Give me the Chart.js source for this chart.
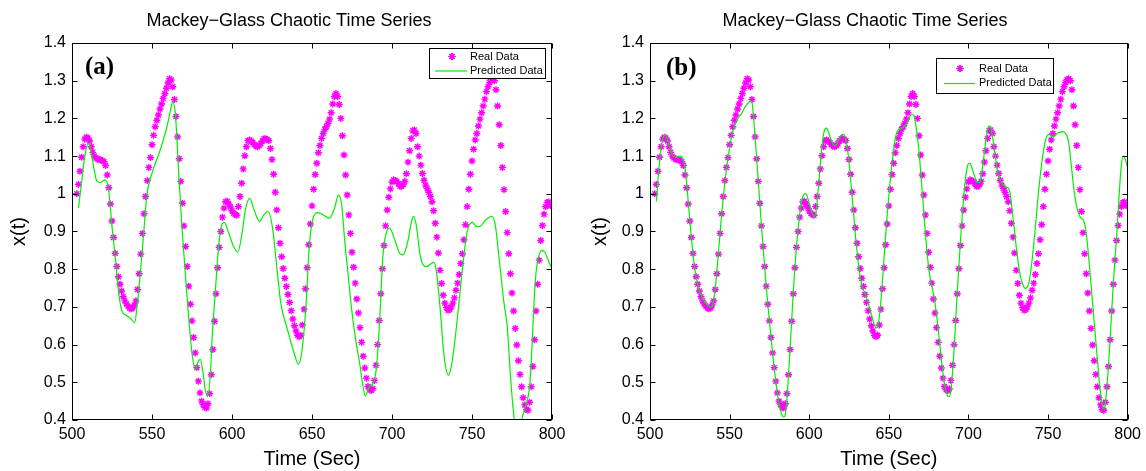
<!DOCTYPE html>
<html>
<head>
<meta charset="utf-8">
<script src="https://cdn.jsdelivr.net/npm/chart.js@4.4.1/dist/chart.umd.min.js"></script>
<style>
html,body{margin:0;padding:0;background:#fff;}
#wrap{position:relative;width:1146px;height:471px;overflow:hidden;}
.panel{position:absolute;top:0;width:573px;height:471px;}
</style>
</head>
<body>
<div id="wrap">
  <div class="panel" style="left:0"><canvas id="chartA" width="573" height="471"></canvas></div>
  <div class="panel" style="left:573px"><canvas id="chartB" width="573" height="471"></canvas></div>
</div>
<script>
// ---------- DATA ----------
const titleText = 'Mackey\u2212Glass Chaotic Time Series';
const xAxisLabel = 'Time (Sec)';
const yAxisLabel = 'x(t)';
const seriesLabels = ['Real Data', 'Predicted Data'];
const panelLabels = ['(a)', '(b)'];

const xTicks = [500, 550, 600, 650, 700, 750, 800];
const yTicks = [0.4, 0.5, 0.6, 0.7, 0.8, 0.9, 1.0, 1.1, 1.2, 1.3, 1.4];
const yTickLabels = ['0.4', '0.5', '0.6', '0.7', '0.8', '0.9', '1', '1.1', '1.2', '1.3', '1.4'];

const realTime = [
503,504,505,506,507,508,509,510,511,512,513,514,515,516,517,518,519,520,521,522,523,524,525,526,527,528,529,530,
531,532,533,534,535,536,537,538,539,540,541,542,543,544,545,546,547,548,549,550,551,552,553,554,555,556,557,558,559,560,
561,562,563,564,565,566,567,568,569,570,571,572,573,574,575,576,577,578,579,580,581,582,583,584,585,586,587,588,589,590,
591,592,593,594,595,596,597,598,599,600,601,602,603,604,605,606,607,608,609,610,611,612,613,614,615,616,617,618,619,620,
621,622,623,624,625,626,627,628,629,630,631,632,633,634,635,636,637,638,639,640,641,642,643,644,645,646,647,648,649,650,
651,652,653,654,655,656,657,658,659,660,661,662,663,664,665,666,667,668,669,670,671,672,673,674,675,676,677,678,679,680,
681,682,683,684,685,686,687,688,689,690,691,692,693,694,695,696,697,698,699,700,701,702,703,704,705,706,707,708,709,710,
711,712,713,714,715,716,717,718,719,720,721,722,723,724,725,726,727,728,729,730,731,732,733,734,735,736,737,738,739,740,
741,742,743,744,745,746,747,748,749,750,751,752,753,754,755,756,757,758,759,760,761,762,763,764,765,766,767,768,769,770,
771,772,773,774,775,776,777,778,779,780,781,782,783,784,785,786,787,788,789,790,791,792,793,794,795,796,797,798,799
];
const realValues = [
1.0,1.025,1.06,1.097,1.125,1.145,1.15,1.148,1.14,1.125,1.11,1.1,1.095,1.092,1.09,1.09,1.088,1.085,1.075,1.05,1.016,0.973,0.928,0.884,0.842,0.807,0.78,0.76,
0.742,0.727,0.716,0.708,0.702,0.697,0.695,0.697,0.705,0.716,0.746,0.788,0.84,0.895,0.947,0.993,1.035,1.07,1.096,1.13,1.155,1.178,1.195,1.209,1.225,1.238,1.253,1.266,1.28,1.294,
1.305,1.302,1.284,1.25,1.205,1.151,1.093,1.033,0.975,0.915,0.86,0.807,0.755,0.707,0.663,0.619,0.578,0.539,0.503,0.472,0.45,0.441,0.434,0.432,0.443,0.47,0.52,0.587,0.662,0.735,
0.804,0.858,0.9,0.938,0.962,0.979,0.98,0.973,0.965,0.955,0.948,0.945,0.943,0.966,0.993,1.028,1.066,1.101,1.125,1.141,1.143,1.14,1.136,1.13,1.127,1.125,1.128,1.133,1.14,1.146,
1.146,1.144,1.141,1.12,1.091,1.052,1.004,0.957,0.91,0.869,0.833,0.802,0.776,0.754,0.733,0.712,0.69,0.668,0.65,0.636,0.625,0.621,0.625,0.652,0.694,0.748,0.804,0.865,0.92,0.968,
1.012,1.051,1.081,1.109,1.128,1.147,1.16,1.171,1.178,1.187,1.198,1.215,1.238,1.258,1.266,1.258,1.237,1.2,1.154,1.103,1.05,0.997,0.944,0.895,0.845,0.805,0.763,0.721,0.684,0.645,
0.606,0.569,0.538,0.511,0.489,0.48,0.478,0.483,0.505,0.545,0.6,0.664,0.735,0.801,0.863,0.915,0.957,0.991,1.013,1.031,1.037,1.035,1.033,1.027,1.02,1.02,1.024,1.033,1.053,1.084,
1.114,1.147,1.167,1.169,1.16,1.125,1.1,1.076,1.054,1.036,1.023,1.014,1.004,0.993,0.979,0.955,0.922,0.885,0.843,0.797,0.762,0.731,0.71,0.698,0.691,0.693,0.7,0.71,0.724,0.744,
0.763,0.786,0.815,0.841,0.878,0.918,0.966,1.012,1.052,1.087,1.118,1.143,1.16,1.18,1.198,1.215,1.233,1.251,1.271,1.284,1.295,1.303,1.305,1.3,1.276,1.233,1.183,1.128,1.07,1.011,
0.953,0.897,0.841,0.788,0.737,0.689,0.643,0.599,0.557,0.521,0.488,0.459,0.44,0.428,0.426,0.447,0.488,0.542,0.613,0.689,0.76,0.824,0.876,0.916,0.946,0.966,0.977,0.978,0.968
];

const predATime = [
504,506,508,510.4,512,514,515.6,517.5,520.8,522.9,525,527,529.2,531.3,533.3,536.5,539.2,540.6,542.7,544.8,546.9,550,555.2,559.4,561.5,562.9,564.6,565.6,566.7,568.7,
570.8,572.9,575,577.1,578.8,580.2,581.9,583.3,584.8,586.5,587.5,589.5,591.6,593.3,595.2,597.9,601,603.6,606.3,608.4,611.1,613.7,617.2,620,622.5,625.2,628.4,630.5,634.7,638.9,
641.4,643.5,646.2,648.3,650.4,653.6,657.8,660.9,664.1,666.6,668.7,670.4,672.5,674.6,676.7,679.8,681.5,683.4,685.9,688,690.1,692.2,694.3,696.4,698.5,701.7,704.8,706.9,710.1,712.2,
713.7,715.3,717.4,719.5,721.6,724.8,726.3,727.9,730,732.6,735.3,737.4,740.5,743.7,746.8,750,753.2,755.3,758.4,762.6,764.7,766.8,770,772,774,775.5,776.5,778,780,781,
783,785,786,787,788,789,790,791.5,793.5,795.5,798,800
];
const predAValues = [
0.962,1.03,1.1,1.135,1.11,1.06,1.033,1.03,1.037,1.01,0.913,0.834,0.736,0.688,0.679,0.67,0.658,0.70,0.789,0.896,1.0,1.055,1.117,1.179,1.22,1.243,1.214,1.143,1.055,0.913,
0.789,0.674,0.577,0.533,0.555,0.561,0.524,0.48,0.462,0.524,0.612,0.736,0.86,0.913,0.924,0.896,0.86,0.845,0.896,0.958,0.988,0.958,0.927,0.945,0.953,0.913,0.789,0.71,0.639,0.577,
0.548,0.577,0.7,0.86,0.931,0.95,0.942,0.935,0.962,0.997,0.966,0.877,0.789,0.7,0.63,0.55,0.5,0.464,0.489,0.497,0.533,0.656,0.834,0.896,0.909,0.878,0.842,0.838,0.878,0.927,
0.94,0.913,0.842,0.811,0.807,0.816,0.818,0.789,0.7,0.568,0.519,0.55,0.656,0.789,0.896,0.924,0.913,0.914,0.93,0.94,0.913,0.834,0.71,0.648,0.52,0.44,0.4,0.37,0.38,0.4,
0.43,0.46,0.49,0.55,0.64,0.73,0.79,0.83,0.85,0.845,0.82,0.8
];

const predBTime = [
504,505,506,507,508,509,510,511,512,513,514,515,516,517,518,519,520,521,522,523,524,525,526,527,528,529,530,
531,532,533,534,535,536,537,538,539,540,541,542,543,544,545,546,547,548,549,550,551,552,553,554,555,556,557,558,559,560,
561,562,563,564,565,566,567,568,569,570,571,572,573,574,575,576,577,578,579,580,581,582,583,584,585,586,587,588,589,590,
591,592,593,594,595,596,597,598,599,600,601,602,603,604,605,606,607,608,609,610,611,612,613,614,615,616,617,618,619,620,
621,622,623,624,625,626,627,628,629,630,631,632,633,634,635,636,637,638,639,640,641,642,643,644,645,646,647,648,649,650,
651,652,653,654,655,656,657,658,659,660,661,662,663,664,665,666,667,668,669,670,671,672,673,674,675,676,677,678,679,680,
681,682,683,684,685,686,687,688,689,690,691,692,693,694,695,696,697,698,699,700,701,702,703,704,705,706,707,708,709,710,
711,712,713,714,715,716,717,718,719,720,721,722,723,724,725,726,727,728,729,730,731,732,733,734,735,736,737,738,739,740,
741,742,743,744,745,746,747,748,749,750,751,752,753,754,755,756,757,758,759,760,761,762,763,764,765,766,767,768,769,770,
771,772,773,774,775,776,777,778,779,780,781,782,783,784,785,786,787,788,789,790,791,792,793,794,795,796,797,798,799,800
];
const predBValues = [
0.98,1.035,1.085,1.122,1.145,1.155,1.155,1.143,1.128,1.113,1.103,1.098,1.096,1.097,1.1,1.1,1.098,1.088,1.068,1.03,0.98,0.93,0.882,0.84,0.805,0.778,0.758,
0.743,0.732,0.723,0.716,0.71,0.705,0.701,0.699,0.702,0.718,0.75,0.795,0.845,0.895,0.945,0.99,1.03,1.065,1.095,1.122,1.145,1.165,1.18,1.19,1.198,1.205,1.21,1.217,1.225,1.232,
1.238,1.242,1.246,1.243,1.205,1.151,1.093,1.033,0.975,0.915,0.86,0.807,0.755,0.707,0.663,0.619,0.578,0.539,0.503,0.47,0.445,0.425,0.412,0.408,0.415,0.455,0.52,0.59,0.665,0.74,
0.805,0.86,0.905,0.945,0.975,0.993,1.0,1.0,0.99,0.975,0.96,0.947,0.94,0.945,0.98,1.03,1.08,1.125,1.158,1.172,1.174,1.165,1.152,1.14,1.132,1.128,1.13,1.138,1.148,1.155,
1.158,1.156,1.145,1.12,1.085,1.04,0.99,0.94,0.89,0.848,0.81,0.78,0.758,0.745,0.736,0.724,0.71,0.695,0.68,0.665,0.652,0.644,0.648,0.672,0.715,0.77,0.83,0.89,0.945,0.995,
1.04,1.08,1.115,1.145,1.163,1.17,1.172,1.174,1.177,1.18,1.185,1.193,1.203,1.21,1.211,1.205,1.18,1.15,1.11,1.06,1.005,0.95,0.895,0.845,0.805,0.775,0.755,0.735,0.71,0.678,
0.64,0.6,0.56,0.525,0.495,0.475,0.463,0.462,0.48,0.525,0.59,0.665,0.74,0.81,0.875,0.935,0.99,1.035,1.065,1.08,1.081,1.072,1.058,1.045,1.035,1.03,1.03,1.045,1.075,1.11,
1.145,1.17,1.18,1.176,1.155,1.125,1.095,1.068,1.048,1.035,1.027,1.022,1.019,1.017,1.015,1.005,0.975,0.935,0.9,0.86,0.825,0.795,0.775,0.76,0.752,0.749,0.752,0.765,0.79,0.825,
0.865,0.91,0.958,1.005,1.045,1.08,1.11,1.135,1.15,1.157,1.157,1.154,1.152,1.153,1.157,1.161,1.163,1.164,1.165,1.164,1.16,1.152,1.135,1.1,1.06,1.02,0.99,0.965,0.95,0.94,
0.935,0.932,0.92,0.895,0.855,0.81,0.76,0.71,0.66,0.61,0.56,0.51,0.47,0.44,0.428,0.445,0.49,0.545,0.615,0.69,0.762,0.826,0.88,0.95,1.02,1.075,1.1,1.097,1.085,1.07
];

// ---------- RENDERING ----------
const FONT = "'Liberation Sans', Arial, Helvetica, sans-serif";
Chart.defaults.color = '#000';
Chart.defaults.font.family = FONT;

function toPoints(xs, ys) { return xs.map((x, i) => ({x: x, y: ys[i]})); }

const decorPlugin = {
  id: 'decor',
  afterDraw(chart, args, opts) {
    const ctx = chart.ctx;
    const a = chart.chartArea;
    const xs = chart.scales.x, ys = chart.scales.y;
    ctx.save();

    // title
    ctx.fillStyle = '#000';
    ctx.font = '18px ' + FONT;
    ctx.textAlign = 'center';
    ctx.textBaseline = 'middle';
    ctx.fillText(titleText, opts.titleX, opts.titleY);

    // axes box with inward ticks
    ctx.strokeStyle = '#000';
    ctx.lineWidth = 1;
    const L = Math.round(a.left) + 0.5, R = Math.round(a.right) - 0.5;
    const T = Math.round(a.top) + 0.5, B = Math.round(a.bottom) - 0.5;
    ctx.strokeRect(L, T, R - L, B - T);
    const tl = 5;
    ctx.beginPath();
    xs.ticks.forEach(t => {
      const p = Math.round(xs.getPixelForValue(t.value)) + 0.5;
      ctx.moveTo(p, B); ctx.lineTo(p, B - tl);
      ctx.moveTo(p, T); ctx.lineTo(p, T + tl);
    });
    ys.ticks.forEach(t => {
      const p = Math.round(ys.getPixelForValue(t.value)) + 0.5;
      ctx.moveTo(L, p); ctx.lineTo(L + tl, p);
      ctx.moveTo(R, p); ctx.lineTo(R - tl, p);
    });
    ctx.stroke();

    // panel label
    ctx.fillStyle = '#000';
    ctx.font = "bold 25px 'Liberation Serif', 'Times New Roman', serif";
    ctx.textBaseline = 'middle';
    ctx.textAlign = 'left';
    ctx.fillText(opts.panelLabel, opts.labelX, opts.labelY);

    // legend box
    const lg = opts.legend;
    ctx.fillStyle = '#fff';
    ctx.fillRect(lg.x, lg.y, lg.w, lg.h);
    ctx.strokeStyle = '#000';
    ctx.lineWidth = 1;
    ctx.strokeRect(lg.x + 0.5, lg.y + 0.5, lg.w, lg.h);
    const ds = chart.data.datasets;
    ctx.font = '11px ' + FONT;
    ctx.fillStyle = '#000';
    ctx.textBaseline = 'middle';
    Chart.helpers.drawPoint(ctx, {pointStyle: 'star', radius: 3.5, borderWidth: 1.3, rotation: 0},
      lg.markerX, lg.row1);
    ctx.strokeStyle = ds[0].borderColor;
    ctx.lineWidth = 1.3;
    ctx.stroke();
    ctx.fillStyle = '#000';
    ctx.fillText(ds[0].label, lg.textX, lg.row1);
    ctx.beginPath();
    ctx.strokeStyle = ds[1].borderColor;
    ctx.lineWidth = 1.2;
    ctx.moveTo(lg.lineX0, lg.row2 + 0.5);
    ctx.lineTo(lg.lineX1, lg.row2 + 0.5);
    ctx.stroke();
    ctx.fillText(ds[1].label, lg.textX, lg.row2);
    ctx.restore();
  }
};

function makeChart(id, predTime, predValues, cfg) {
  return new Chart(document.getElementById(id), {
    type: 'line',
    data: {
      datasets: [
        {
          label: seriesLabels[0],
          data: toPoints(realTime, realValues),
          showLine: false,
          pointStyle: 'star',
          pointRadius: 3.5,
          pointHoverRadius: 3.5,
          borderColor: '#ff00ff',
          backgroundColor: '#ff00ff',
          pointBorderWidth: 1.4,
          order: 2
        },
        {
          label: seriesLabels[1],
          data: toPoints(predTime, predValues),
          borderColor: '#00ee00',
          backgroundColor: '#00ee00',
          borderWidth: 1.2,
          pointRadius: 0,
          cubicInterpolationMode: 'monotone',
          fill: false,
          order: 1
        }
      ]
    },
    options: {
      responsive: false,
      animation: false,
      devicePixelRatio: 1,
      events: [],
      layout: {padding: {left: 0, right: cfg.padRight, top: 43, bottom: 0}},
      plugins: {
        legend: {display: false},
        tooltip: {enabled: false},
        title: {display: false},
        decor: cfg.decor
      },
      scales: {
        x: {
          type: 'linear',
          min: 500, max: 800,
          afterBuildTicks: s => { s.ticks = xTicks.map(v => ({value: v})); },
          afterFit: s => { s.height = 51; },
          grid: {display: false, drawTicks: false},
          border: {display: false},
          ticks: {font: {size: 16}, color: '#000', padding: 5, maxRotation: 0, autoSkip: false,
                  callback: v => String(v)},
          title: {display: true, text: xAxisLabel, font: {size: 20}, color: '#000', padding: {top: 0, bottom: 0}}
        },
        y: {
          type: 'linear',
          min: 0.4, max: 1.4,
          afterBuildTicks: s => { s.ticks = yTicks.map(v => ({value: v})); },
          afterFit: s => { s.width = cfg.yWidth; },
          grid: {display: false, drawTicks: false},
          border: {display: false},
          ticks: {font: {size: 16}, color: '#000', padding: 6, autoSkip: false,
                  callback: (v, i) => yTickLabels[i]},
          title: {display: true, text: yAxisLabel, font: {size: 20}, color: '#000', padding: {top: cfg.yTitlePad, bottom: 0}}
        }
      }
    },
    plugins: [decorPlugin]
  });
}

makeChart('chartA', predATime, predAValues, {
  padRight: 21, yWidth: 72, yTitlePad: 7,
  decor: {
    titleX: 289, titleY: 21,
    panelLabel: panelLabels[0], labelX: 85, labelY: 68,
    legend: {x: 429, y: 48, w: 116, h: 30, row1: 56.5, row2: 70.5, markerX: 452, lineX0: 435, lineX1: 467, textX: 470}
  }
});
makeChart('chartB', predBTime, predBValues, {
  padRight: 16, yWidth: 77, yTitlePad: 15,
  decor: {
    titleX: 292, titleY: 21,
    panelLabel: panelLabels[1], labelX: 93, labelY: 68.5,
    legend: {x: 363, y: 58, w: 117, h: 35, row1: 68.5, row2: 83, markerX: 387, lineX0: 371, lineX1: 402, textX: 406}
  }
});
</script>
</body>
</html>
